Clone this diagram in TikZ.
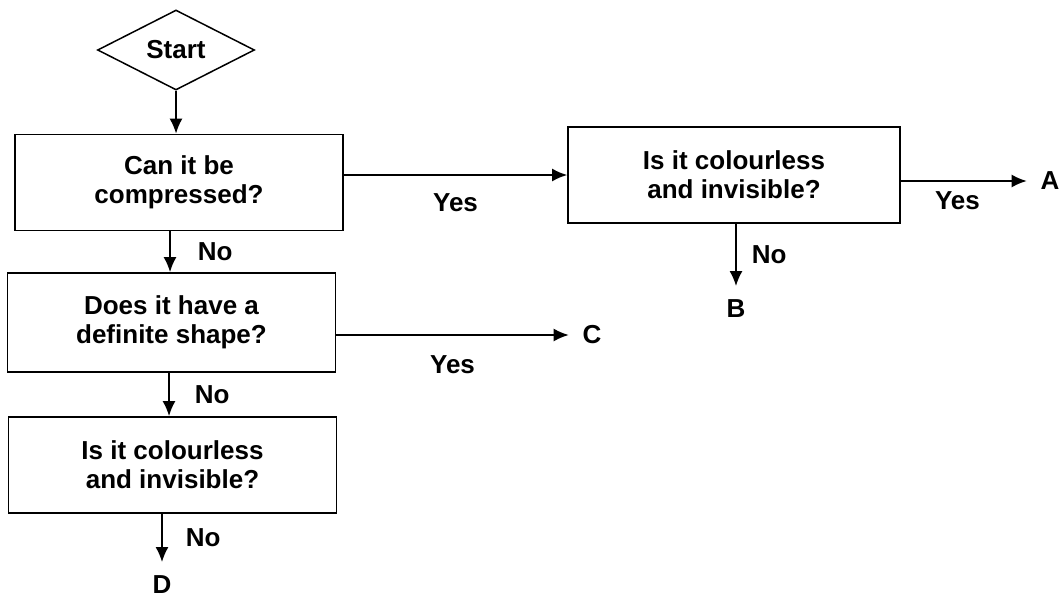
\documentclass[tikz,border=0pt]{standalone}
\usepackage{fontspec}
\setmainfont{Liberation Sans}
\usetikzlibrary{positioning, arrows.meta, shapes.geometric}

\begin{document}
\begin{tikzpicture}[x=1pt, y=-1pt, font=\fontsize{26}{29}\selectfont\bfseries,
    qbox/.style={draw, line width=1.8pt, align=center, inner sep=0pt,
      minimum width=328pt, minimum height=96pt},
    endpt/.style={inner sep=0pt, outer sep=14pt},
    lbl/.style={inner sep=2pt},
    flow/.style={line width=1.6pt, -{Latex[length=15pt, width=13pt]}}]
  \useasboundingbox (0,0) rectangle (1062,599);

  \node[draw, diamond, aspect=2, line width=1.5pt, inner sep=0pt,
    minimum width=157pt, minimum height=80pt] (start) at (176,50) {Start};

  \node[qbox] (b1) at (179,182.5) {Can it be\\ compressed?};
  \node[qbox, minimum height=99pt] (b2) at (171.5,322.5) {Does it have a\\ definite shape?};
  \node[qbox] (b3) at (172.5,465) {Is it colourless\\ and invisible?};
  \node[qbox, minimum width=332pt] (b4) at (734,175) {Is it colourless\\ and invisible?};

  \node[endpt] (a) at (1050,181) {A};
  \node[endpt] (b) at (736,309) {B};
  \node[endpt] (c) at (592,335) {C};
  \node[endpt] (d) at (162,585) {D};

  \draw[flow] (start.south) -- (start.south |- b1.north);
  \draw[flow] (b1.south -| 170,0) -- (b2.north -| 170,0)
    node[lbl, midway, right=25pt] {No};
  \draw[flow] (b2.south -| 169,0) -- (b3.north -| 169,0)
    node[lbl, midway, right=23pt] {No};
  \draw[flow] (b3.south -| d) -- (d)
    node[lbl, midway, right=21pt] {No};

  \draw[flow] (b1.east |- b4.west) -- (b4.west)
    node[lbl, midway, below=16pt] {Yes};
  \draw[flow] (b2.east |- c) -- (c)
    node[lbl, midway, below=18pt] {Yes};
  \draw[flow] (b4.east |- a) -- (a)
    node[lbl, pos=0.45, below=8pt] {Yes};
  \draw[flow] (b4.south -| b) -- (b)
    node[lbl, midway, right=13pt] {No};
\end{tikzpicture}
\end{document}
